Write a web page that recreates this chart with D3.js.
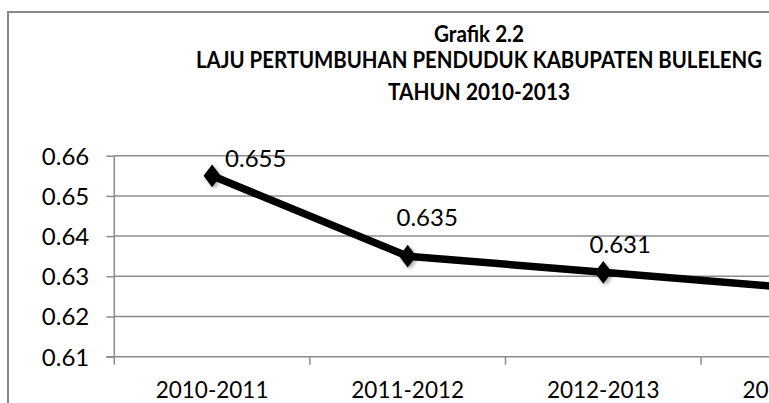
<!DOCTYPE html>
<html>
<head>
<meta charset="utf-8">
<script src="https://cdn.jsdelivr.net/npm/d3@7/dist/d3.min.js"></script>
<style>
  html, body { margin: 0; padding: 0; background: #fff; }
  svg { display: block; }
</style>
</head>
<body>
<svg id="chart" width="769" height="403"></svg>
<script>
// ---- data ----
const titleLines = ["Grafik 2.2", "LAJU PERTUMBUHAN PENDUDUK KABUPATEN BULELENG", "TAHUN 2010-2013"];
const categories = ["2010-2011", "2011-2012", "2012-2013", "2013-2014"];
const values = [0.655, 0.635, 0.631, 0.627];
const valueLabels = ["0.655", "0.635", "0.631", "0.627"];
const yTicks = [0.61, 0.62, 0.63, 0.64, 0.65, 0.66];
const yTickLabels = ["0.61", "0.62", "0.63", "0.64", "0.65", "0.66"];

// ---- layout (not data) ----
const labelOffsets = [[13, -9, "start"], [19.5, -30, "middle"], [17, -19, "middle"], [17, -19, "middle"]];
const plot = { left: 114.3, right: 896.7, top: 155.7, bottom: 356.7 };
const gridColor = "#8c8c8c";
const font = "Lato, 'Open Sans', sans-serif";

const svg = d3.select("#chart");

const defs = svg.append("defs");
const f = defs.append("filter").attr("id", "shadow").attr("x", "-50%").attr("y", "-50%").attr("width", "200%").attr("height", "200%");
f.append("feDropShadow").attr("dx", 1.5).attr("dy", 2).attr("stdDeviation", 1.5).attr("flood-color", "#000").attr("flood-opacity", 0.35);

// chart border
svg.append("rect")
  .attr("x", 8).attr("y", 12).attr("width", 900).attr("height", 500)
  .attr("fill", "#fff").attr("stroke", "#888").attr("stroke-width", 2);

// title
const titleSpecs = [
  { y: 42, len: 90 },
  { y: 68, len: 566 },
  { y: 100, len: 182 }
];
svg.append("g").selectAll("text").data(titleLines).join("text")
  .attr("x", 479).attr("y", (d, i) => titleSpecs[i].y)
  .attr("text-anchor", "middle")
  .attr("font-family", font).attr("font-weight", "bold").attr("font-size", 22.5)
  .attr("textLength", (d, i) => titleSpecs[i].len)
  .attr("lengthAdjust", "spacingAndGlyphs")
  .attr("fill", "#000")
  .text(d => d);

// scales
const x = d3.scaleBand().domain(categories).range([plot.left, plot.right]).padding(0);
const y = d3.scaleLinear().domain([0.61, 0.66]).range([plot.bottom, plot.top]);

// gridlines
svg.append("g").selectAll("line").data(yTicks.slice(1)).join("line")
  .attr("x1", plot.left).attr("x2", plot.right)
  .attr("y1", d => y(d)).attr("y2", d => y(d))
  .attr("stroke", gridColor).attr("stroke-width", 1.5);

// y axis
const yAxis = d3.axisLeft(y).tickValues(yTicks).tickSize(8).tickPadding(17)
  .tickFormat((d, i) => yTickLabels[i]);
const gy = svg.append("g").attr("transform", `translate(${plot.left},0)`).call(yAxis);
gy.select(".domain").remove();
gy.selectAll(".tick line").attr("stroke", gridColor).attr("stroke-width", 1.5);
gy.selectAll(".tick text").attr("font-family", font).attr("font-size", 24).attr("fill", "#000").attr("dy", "0.35em");
svg.append("line")
  .attr("x1", plot.left).attr("x2", plot.left).attr("y1", plot.top).attr("y2", plot.bottom + 8)
  .attr("stroke", gridColor).attr("stroke-width", 1.5);

// x axis
svg.append("line")
  .attr("x1", plot.left - 8).attr("x2", plot.right).attr("y1", plot.bottom).attr("y2", plot.bottom)
  .attr("stroke", gridColor).attr("stroke-width", 1.5);
svg.append("g").selectAll("line").data(categories.slice(1)).join("line")
  .attr("x1", d => x(d)).attr("x2", d => x(d))
  .attr("y1", plot.bottom).attr("y2", plot.bottom + 8)
  .attr("stroke", gridColor).attr("stroke-width", 1.5);
svg.append("g").selectAll("text").data(categories).join("text")
  .attr("x", d => x(d) + x.bandwidth() / 2).attr("y", 398)
  .attr("text-anchor", "middle")
  .attr("font-family", font).attr("font-size", 22.5).attr("fill", "#000")
  .text(d => d);

// line
const pts = categories.map((c, i) => [x(c) + x.bandwidth() / 2, y(values[i])]);
svg.append("path")
  .attr("d", d3.line()(pts))
  .attr("fill", "none").attr("stroke", "#000").attr("stroke-width", 7.5).attr("stroke-linejoin", "round");

// markers
const diamond = d3.symbol().type(d3.symbolDiamond).size(150);
svg.append("g").selectAll("path").data(pts).join("path")
  .attr("transform", d => `translate(${d[0]},${d[1]}) scale(1.3,1)`)
  .attr("d", diamond())
  .attr("fill", "#000")
  .attr("filter", "url(#shadow)");

// data labels
svg.append("g").selectAll("text").data(pts).join("text")
  .attr("x", (d, i) => d[0] + labelOffsets[i][0])
  .attr("y", (d, i) => d[1] + labelOffsets[i][1])
  .attr("text-anchor", (d, i) => labelOffsets[i][2])
  .attr("font-family", font).attr("font-size", 24).attr("fill", "#000")
  .text((d, i) => valueLabels[i]);
</script>
</body>
</html>
